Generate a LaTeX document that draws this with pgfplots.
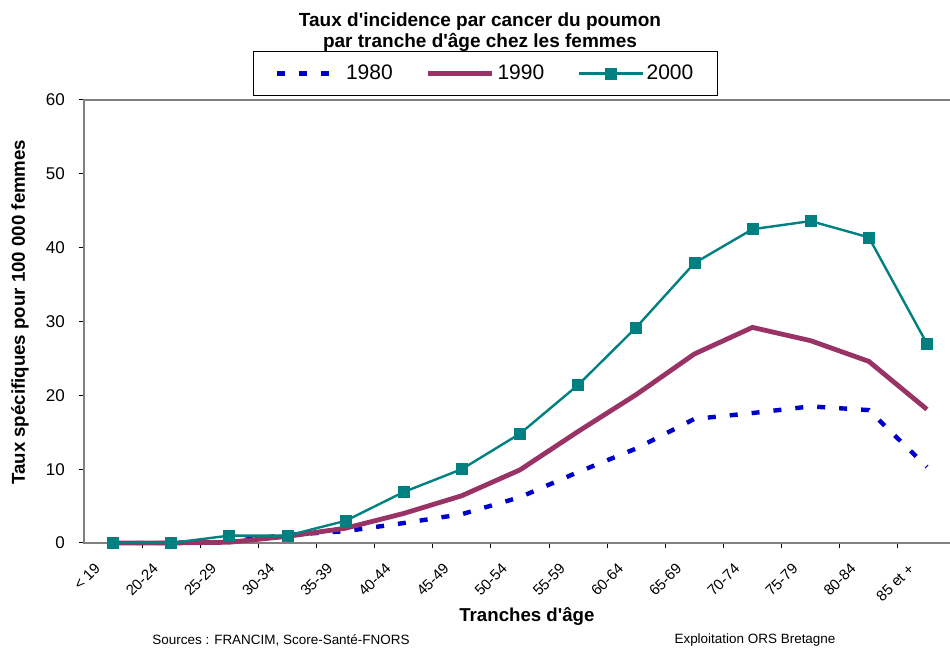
\documentclass[border=0pt]{standalone}
\usepackage{fontspec}
\setmainfont{Liberation Sans}[Ligatures=TeXOff]
\usepackage{pgfplots}
\pgfplotsset{compat=1.18}
\definecolor{c80}{RGB}{0,0,204}
\definecolor{c90}{RGB}{153,51,102}
\definecolor{c00}{RGB}{0,128,128}
\definecolor{axgray}{RGB}{128,128,128}
\begin{document}
\begin{tikzpicture}[x=1pt,y=1pt]
\path[use as bounding box] (0,0) rectangle (712.5,486);
\begin{axis}[
  at={(62.9pt,78.75pt)}, anchor=south west,
  scale only axis, width=654.1pt, height=332.25pt,
  xmin=-0.5, xmax=14.5, ymin=0, ymax=60,
  clip=false,
  axis line style={axgray, line width=2pt},
  tick pos=left, tick align=outside,
  tick style={black, line width=0.75pt},
  major tick length=4pt, minor tick length=4pt,
  xtick={0,...,14},
  xticklabels={{< 19},20-24,25-29,30-34,35-39,40-44,45-49,50-54,55-59,60-64,65-69,70-74,75-79,80-84,{85 et +}},
  major x tick style={draw=none},
  minor xtick={0.5,1.5,...,13.5},
  ytick={0,10,...,60},
  /pgf/number format/assume math mode=true,
  xticklabel style={xshift=-14.5pt, yshift=-9pt, rotate=45, anchor=north east, font=\fontsize{11.2}{13}\selectfont, inner sep=1pt},
  yticklabel style={font=\fontsize{12.75}{15}\selectfont, xshift=-6.75pt},
  xlabel={Tranches d'âge},
  ylabel={Taux spécifiques pour 100 000 femmes},
  xlabel style={at={(axis description cs:0.508,-0.165)}, anchor=center, font=\bfseries\fontsize{14}{16}\selectfont},
  ylabel style={at={(axis description cs:-0.0733,0.521)}, anchor=center, font=\bfseries\fontsize{14}{16}\selectfont},
  legend columns=3,
  legend style={at={(axis description cs:0.4605,1.0598)}, anchor=center, draw=black, line width=0.75pt,
    font=\fontsize{15.75}{18}\selectfont, inner xsep=16pt, inner ysep=8.5pt,
    nodes={inner sep=2pt, anchor=west},
    /tikz/every even column/.append style={column sep=23pt}},
  legend image code/.code={
    \draw[#1, mark=none] (0pt,0pt) -- (48pt,0pt);
    \draw[#1, only marks] plot coordinates {(24pt,0pt)};
  },
]
\addplot[c80, line width=3.3pt, dash pattern=on 6pt off 10.5pt, mark=none] coordinates {
 (0,0) (1,0) (2,0.2) (3,1.1) (4,1.6) (5,2.7) (6,3.9) (7,6.2) (8,9.6) (9,12.8) (10,16.8) (11,17.6) (12,18.5) (13,18.0) (14,10.3)};
\addlegendentry{1980}
\addplot[c90, line width=3.6pt, mark=none] coordinates {
 (0,0) (1,0) (2,0.1) (3,0.9) (4,2.0) (5,4.0) (6,6.4) (7,9.9) (8,15.1) (9,20.1) (10,25.6) (11,29.2) (12,27.4) (13,24.6) (14,18.1)};
\addlegendentry{1990}
\addplot[c00, line width=1.8pt, mark=square*, mark size=4.1pt, mark options={solid, fill=c00, draw=c00, line width=0.4pt}] coordinates {
 (0,0) (1,0) (2,1.0) (3,1.0) (4,3.0) (5,6.9) (6,10.0) (7,14.8) (8,21.4) (9,29.2) (10,37.9) (11,42.5) (12,43.6) (13,41.4) (14,27.0)};
\addlegendentry{2000}
\end{axis}
\node[font=\bfseries\fontsize{14.25}{15.75}\selectfont, align=center] at (360,462) {Taux d'incidence par cancer du poumon\\par tranche d'âge chez les femmes};
\node[font=\fontsize{10.1}{12}\selectfont] at (210.75,6) {Sources : FRANCIM, Score-Santé-FNORS};
\node[font=\fontsize{10.1}{12}\selectfont] at (566.25,6) {Exploitation ORS Bretagne};
\end{tikzpicture}
\end{document}
